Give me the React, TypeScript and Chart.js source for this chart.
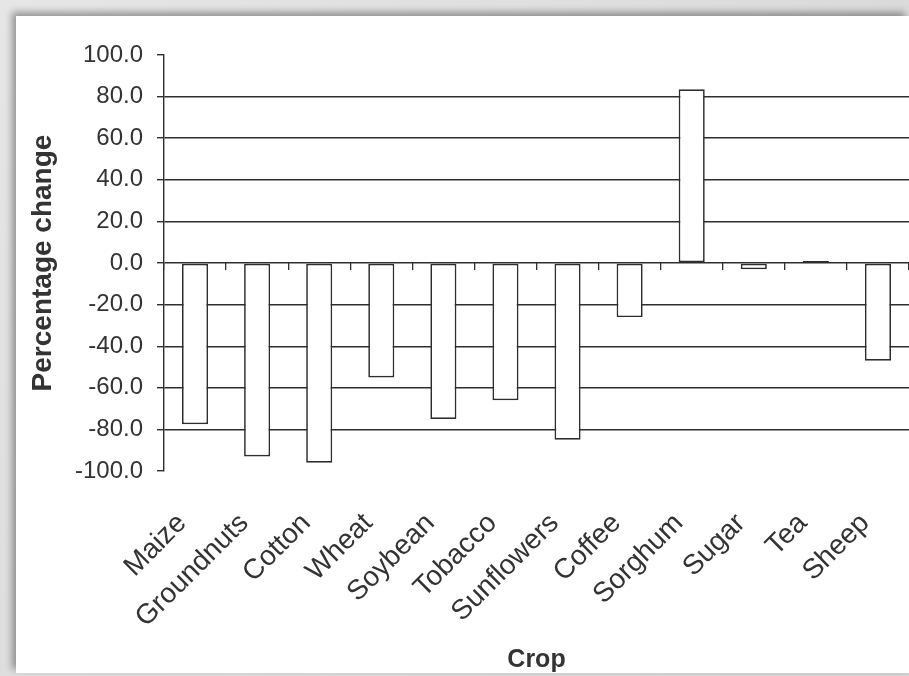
import React, { useEffect, useRef } from "react";
import { Chart, registerables } from "chart.js";

Chart.register(...registerables);

const categories: string[] = [
  "Maize",
  "Groundnuts",
  "Cotton",
  "Wheat",
  "Soybean",
  "Tobacco",
  "Sunflowers",
  "Coffee",
  "Sorghum",
  "Sugar",
  "Tea",
  "Sheep",
];

const percentageChange: number[] = [-77.5, -93, -96, -55, -75, -66, -85, -26, 83.5, -3, 1, -47];

const yTickValues: number[] = [100, 80, 60, 40, 20, 0, -20, -40, -60, -80, -100];

const xTitle = "Crop";
const yTitle = "Percentage change";

const FONT = "'Liberation Sans', Arial, Helvetica, sans-serif";
const INK = "#2e2e2e";
const TEXT = "#333333";
const CANVAS_W = 893;
const CANVAS_H = 657;

export default function App() {
  const canvasRef = useRef<HTMLCanvasElement | null>(null);

  useEffect(() => {
    const canvas = canvasRef.current;
    if (!canvas) return;
    const yMin = yTickValues[yTickValues.length - 1];
    const yMax = yTickValues[0];

    const chart = new Chart(canvas, {
      type: "bar",
      data: {
        labels: categories,
        datasets: [
          {
            label: yTitle,
            data: percentageChange,
            xAxisID: "x",
            yAxisID: "y",
            backgroundColor: "#ffffff",
            borderColor: INK,
            borderWidth: 1.7,
            borderSkipped: false,
            barPercentage: 0.42,
            categoryPercentage: 1,
          },
        ],
      },
      options: {
        responsive: false,
        maintainAspectRatio: false,
        animation: false,
        layout: { padding: { top: 39, left: 0, right: 0, bottom: 0 } },
        plugins: {
          legend: { display: false },
          tooltip: { enabled: false },
        },
        scales: {
          x: {
            type: "category",
            position: "bottom",
            offset: true,
            grid: { display: false, drawTicks: false },
            border: { display: false },
            ticks: {
              autoSkip: false,
              minRotation: 45,
              maxRotation: 45,
              padding: 36,
              labelOffset: -13,
              color: TEXT,
              font: { family: FONT, size: 28 },
            },
            title: {
              display: true,
              text: xTitle,
              color: TEXT,
              font: { family: FONT, size: 25, weight: "bold", lineHeight: 1 },
              padding: { top: 0, bottom: 0 },
            },
            afterFit: (scale: any) => {
              scale.height = 202;
              scale.paddingRight = 0;
              scale.paddingLeft = 0;
            },
          },
          x2: {
            type: "category",
            position: { y: 0 },
            offset: true,
            grid: {
              display: true,
              drawOnChartArea: false,
              drawTicks: true,
              tickLength: 7,
              offset: true,
              color: INK,
              lineWidth: 1.3,
            },
            border: { display: false },
            ticks: { display: false },
            afterFit: (scale: any) => {
              scale.paddingRight = 0;
              scale.paddingLeft = 0;
            },
          } as any,
          y: {
            type: "linear",
            position: "left",
            min: yMin,
            max: yMax,
            grid: {
              color: (ctx: any) =>
                ctx.tick && (ctx.tick.value === yMax || ctx.tick.value === yMin)
                  ? "rgba(0,0,0,0)"
                  : INK,
              tickColor: INK,
              tickLength: 7,
              lineWidth: 1.4,
            },
            border: { display: true, color: INK, width: 1.4 },
            ticks: {
              stepSize: 20,
              padding: 14,
              color: TEXT,
              font: { family: FONT, size: 24 },
              callback: (v: any) => Number(v).toFixed(1),
            },
            afterBuildTicks: (scale: any) => {
              scale.ticks = yTickValues.map((v) => ({ value: v }));
            },
            title: {
              display: true,
              text: yTitle,
              color: TEXT,
              font: { family: FONT, size: 28, weight: "bold", lineHeight: 1 },
              padding: { top: 13, bottom: 0 },
            },
            afterFit: (scale: any) => {
              scale.width = 148;
            },
          },
        },
      } as any,
    });

    return () => {
      chart.destroy();
    };
  }, []);

  return (
    <div
      style={{
        position: "fixed",
        left: 0,
        top: 0,
        width: 909,
        height: 676,
        background: "linear-gradient(135deg, #e6e6e6 0%, #d2d2d2 100%)",
        overflow: "hidden",
      }}
    >
      <div
        style={{
          position: "absolute",
          left: 16,
          top: 16,
          width: CANVAS_W,
          height: CANVAS_H,
          background: "#ffffff",
          boxShadow: "-4px -4px 7px rgba(0,0,0,0.35)",
        }}
      >
        <canvas
          ref={canvasRef}
          width={CANVAS_W}
          height={CANVAS_H}
          style={{ display: "block", width: CANVAS_W, height: CANVAS_H }}
        />
      </div>
    </div>
  );
}
